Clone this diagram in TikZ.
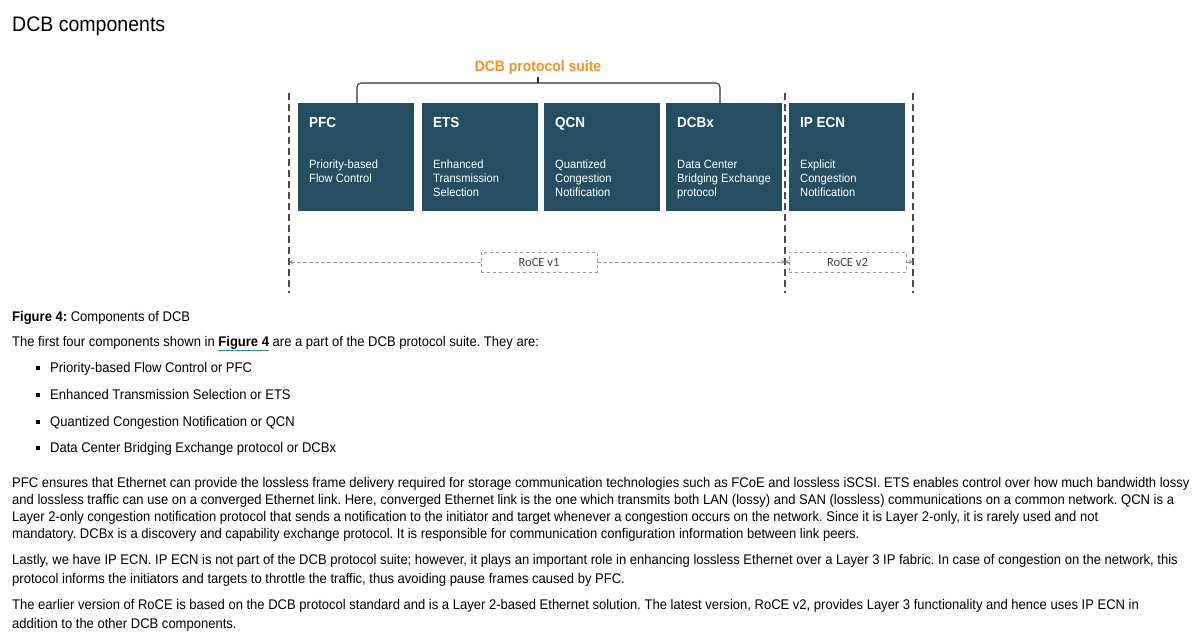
\documentclass[tikz,border=0pt]{standalone}
\usepackage{fontspec}
\setmainfont[FakeStretch=0.93]{Liberation Sans}
\newfontfamily\roceFont{Carlito}
\usepackage{tikz}
\usetikzlibrary{arrows.meta}
\frenchspacing

\definecolor{dcbteal}{RGB}{37,78,96}
\definecolor{dcborange}{RGB}{240,146,40}
\definecolor{guidegray}{RGB}{75,75,75}
\definecolor{rocegray}{RGB}{150,150,150}
\definecolor{linkgreen}{RGB}{40,150,130}

\tikzset{
    comp/.style={fill=dcbteal, anchor=north west, minimum width=116pt, minimum height=108pt, inner sep=0pt},
    comptitle/.style={anchor=base west, inner sep=0pt, text=white, font=\fontsize{14.5}{16}\selectfont\bfseries},
    compdesc/.style={anchor=base west, inner sep=0pt, text=white, align=left, font=\fontsize{12}{14.4}\selectfont},
    bracket/.style={draw=black!80, line width=1.1pt},
    guide/.style={draw=guidegray, line width=1.4pt, dash pattern=on 7pt off 4pt},
    roce/.style={draw=rocegray, dashed, line width=0.8pt, minimum width=116pt, minimum height=20pt, inner sep=0pt, text=black!75, font=\roceFont\fontsize{12.5}{14}\selectfont},
    rocearrow/.style={draw=rocegray, line width=0.8pt, dash pattern=on 4pt off 2pt, -{Stealth[length=4pt, width=4pt]}},
    bodytext/.style={anchor=base west, inner sep=0pt, font=\fontsize{14}{16}\selectfont},
    bulletsq/.style={fill=black, minimum size=4.5pt, inner sep=0pt}
}

\begin{document}
\begin{tikzpicture}[x=1pt, y=-1pt]
    \fill[white] (0,0) rectangle (1200,642);
    \useasboundingbox (0,0) rectangle (1200,642);

    \node[anchor=base west, inner sep=0pt, font=\fontsize{21}{24}\selectfont] (heading) at (12,32) {DCB components};

    % protocol suite header
    \node[text=dcborange, inner sep=0pt, anchor=base, font=\fontsize{15}{18}\selectfont\bfseries] (suite) at (538,72) {DCB protocol suite};

    % the five components
    \node[comp] (pfc) at (298,103) {};
    \node[comp] (ets) at (422,103) {};
    \node[comp] (qcn) at (544,103) {};
    \node[comp] (dcbx) at (666,103) {};
    \node[comp] (ipecn) at (789,103) {};

    \node[comptitle] (pfc-t) at (309,128) {PFC};
    \node[comptitle] (ets-t) at (433,128) {ETS};
    \node[comptitle] (qcn-t) at (555,128) {QCN};
    \node[comptitle] (dcbx-t) at (677,128) {DCBx};
    \node[comptitle] (ipecn-t) at (800,128) {IP ECN};

    % base of a multi-line node is its last line
    \node[compdesc] (pfc-d) at (309,182.4) {Priority-based\\Flow Control};
    \node[compdesc] (ets-d) at (433,196.8) {Enhanced\\Transmission\\Selection};
    \node[compdesc] (qcn-d) at (555,196.8) {Quantized\\Congestion\\Notification};
    \node[compdesc] (dcbx-d) at (677,196.8) {Data Center\\Bridging Exchange\\protocol};
    \node[compdesc] (ipecn-d) at (800,196.8) {Explicit\\Congestion\\Notification};

    % bracket over the first four
    \coordinate (pfc-top) at (357,103);
    \coordinate (dcbx-top) at (720,103);
    \coordinate (suite-mid) at (538,83);
    \draw[bracket, rounded corners=4pt] (pfc-top) |- (suite-mid) -| (dcbx-top);
    \draw[bracket] (suite-mid) -- ++(0,-6);

    % dashed guides
    \draw[guide] (289,93) -- (289,293);
    \draw[guide] (785,93) -- (785,293);
    \draw[guide] (913,93) -- (913,293);

    % RoCE ranges
    \node[roce] (v1) at (539,262) {RoCE v1};
    \node[roce, minimum width=117pt] (v2) at (847.5,262) {RoCE v2};
    \coordinate (g1) at (289,262);
    \coordinate (g2) at (785,262);
    \coordinate (g3) at (913,262);
    \draw[rocearrow] (v1) -- (g1);
    \draw[rocearrow] (v1) -- (g2);
    \draw[rocearrow] (v2) -- (g2);
    \draw[rocearrow] (v2) -- (g3);

    % text below the figure
    \node[bodytext] (cap) at (12,321) {\textbf{Figure 4:} Components of DCB};
    \node[bodytext] (intro) at (12,346) {The first four components shown in {\color{linkgreen}\underline{\color{black}\textbf{Figure 4}}} are a part of the DCB protocol suite. They are:};

    \node[bulletsq] (b1) at (38,368) {};
    \node[bulletsq] (b2) at (38,395) {};
    \node[bulletsq] (b3) at (38,422) {};
    \node[bulletsq] (b4) at (38,448) {};
    \node[bodytext] (i1) at (50,372) {Priority-based Flow Control or PFC};
    \node[bodytext] (i2) at (50,399) {Enhanced Transmission Selection or ETS};
    \node[bodytext] (i3) at (50,426) {Quantized Congestion Notification or QCN};
    \node[bodytext] (i4) at (50,452) {Data Center Bridging Exchange protocol or DCBx};

    \node[bodytext] (p1a) at (12,487) {PFC ensures that Ethernet can provide the lossless frame delivery required for storage communication technologies such as FCoE and lossless iSCSI. ETS enables control over how much bandwidth lossy};
    \node[bodytext] (p1b) at (12,504) {and lossless traffic can use on a converged Ethernet link. Here, converged Ethernet link is the one which transmits both LAN (lossy) and SAN (lossless) communications on a common network. QCN is a};
    \node[bodytext] (p1c) at (12,521) {Layer 2-only congestion notification protocol that sends a notification to the initiator and target whenever a congestion occurs on the network. Since it is Layer 2-only, it is rarely used and not};
    \node[bodytext] (p1d) at (12,538) {mandatory. DCBx is a discovery and capability exchange protocol. It is responsible for communication configuration information between link peers.};

    \node[bodytext] (p2a) at (12,564) {Lastly, we have IP ECN. IP ECN is not part of the DCB protocol suite; however, it plays an important role in enhancing lossless Ethernet over a Layer 3 IP fabric. In case of congestion on the network, this};
    \node[bodytext] (p2b) at (12,583) {protocol informs the initiators and targets to throttle the traffic, thus avoiding pause frames caused by PFC.};

    \node[bodytext] (p3a) at (12,609) {The earlier version of RoCE is based on the DCB protocol standard and is a Layer 2-based Ethernet solution. The latest version, RoCE v2, provides Layer 3 functionality and hence uses IP ECN in};
    \node[bodytext] (p3b) at (12,628) {addition to the other DCB components.};
\end{tikzpicture}
\end{document}
